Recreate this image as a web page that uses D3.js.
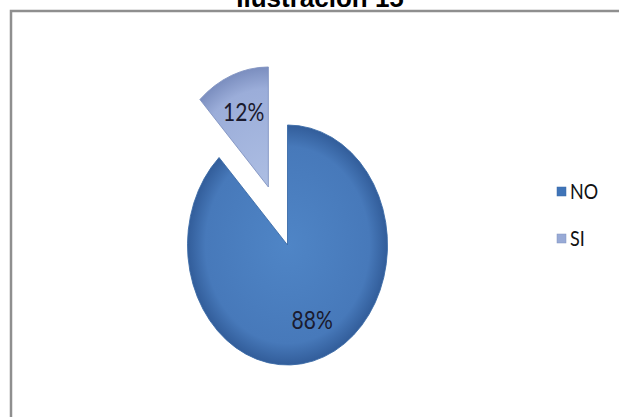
<!DOCTYPE html>
<html>
<head>
<meta charset="utf-8">
<script src="https://cdn.jsdelivr.net/npm/d3@7"></script>
<style>
html,body{margin:0;padding:0;background:#fff;}
svg{display:block;}
</style>
</head>
<body>
<svg id="chart" width="619" height="417"></svg>
<script>
const categories = ["NO", "SI"];
const values = [88, 12];
const labels = ["88%", "12%"];
const title = "Ilustración 15";

const svg = d3.select("#chart");
const W = 619, H = 417;

// frame (partially cropped in reference)
svg.append("rect").attr("x", 0).attr("y", 0).attr("width", W).attr("height", H).attr("fill", "#fff");
svg.append("path")
  .attr("d", `M11,${H} L11,11 L${W},11`)
  .attr("fill", "none").attr("stroke", "#8f8f8f").attr("stroke-width", 2.5);

// title (cut off at top, as in the reference)
svg.append("text")
  .attr("x", 320).attr("y", 7)
  .attr("text-anchor", "middle")
  .attr("font-family", "Liberation Sans, Arial, sans-serif")
  .attr("font-weight", "bold").attr("font-size", 26)
  .attr("fill", "#000")
  .text(title);

const defs = svg.append("defs");
const grads = [
  {id: "gNO", c0: "#4f85c6", c1: "#4779ba", c2: "#325d9a"},
  {id: "gSI", c0: "#adbee3", c1: "#9badd9", c2: "#7b8ebf"}
];
grads.forEach(g => {
  const rg = defs.append("radialGradient").attr("id", g.id)
    .attr("gradientUnits", "userSpaceOnUse").attr("cx", 0).attr("cy", 0).attr("r", 100);
  rg.append("stop").attr("offset", "0%").attr("stop-color", g.c0);
  rg.append("stop").attr("offset", "82%").attr("stop-color", g.c1);
  rg.append("stop").attr("offset", "100%").attr("stop-color", g.c2);
});
const fills = {NO: "url(#gNO)", SI: "url(#gSI)"};
const legendFills = {NO: "#3f74b8", SI: "#98aad6"};
const strokes = {NO: "#3a6aa6", SI: "#7f92c0"};

const cx = 287.5, cy = 245, R = 100, sy = 1.2, explode = 52;
const pie = d3.pie().sort(null).value(d => d.v).startAngle(0).endAngle(2 * Math.PI);
const data = pie(categories.map((c, i) => ({c, v: values[i], l: labels[i]})));
const arc = d3.arc().innerRadius(0).outerRadius(R);
const labelArc = d3.arc().innerRadius(67).outerRadius(67);

const g = svg.append("g").attr("transform", `translate(${cx},${cy}) scale(1,${sy})`);
data.forEach(d => {
  const mid = (d.startAngle + d.endAngle) / 2;
  const off = d.data.c === "SI" ? explode : 0;
  const ox = Math.sin(mid) * off, oy = -Math.cos(mid) * off;
  d.ox = ox; d.oy = oy;
  g.append("g").attr("transform", `translate(${ox},${oy})`)
    .append("path").attr("d", arc(d))
    .attr("fill", fills[d.data.c])
    .attr("stroke", strokes[d.data.c]).attr("stroke-width", 0.8);
});

data.forEach(d => {
  const [lx, ly] = labelArc.centroid(d);
  const x = cx + lx + d.ox, y = cy + (ly + d.oy) * sy;
  svg.append("text")
    .attr("transform", `translate(${x},${y}) scale(1,1.2)`)
    .attr("dy", "0.36em")
    .attr("text-anchor", "middle")
    .attr("font-family", "Lato, 'Open Sans', sans-serif")
    .attr("font-size", 21).attr("fill", "#1a1a2e")
    .text(d.data.l);
});

// legend
const leg = svg.append("g");
categories.forEach((c, i) => {
  const y = 191.5 + i * 47;
  leg.append("rect").attr("x", 557).attr("y", y - 4.5).attr("width", 9).attr("height", 9)
    .attr("fill", legendFills[c]).attr("stroke", strokes[c]).attr("stroke-width", 0.5);
  leg.append("text")
    .attr("transform", `translate(570,${y}) scale(1,1.15)`)
    .attr("dy", "0.36em")
    .attr("font-family", "Lato, 'Open Sans', sans-serif")
    .attr("font-size", 18).attr("fill", "#111")
    .text(c);
});
</script>
</body>
</html>
